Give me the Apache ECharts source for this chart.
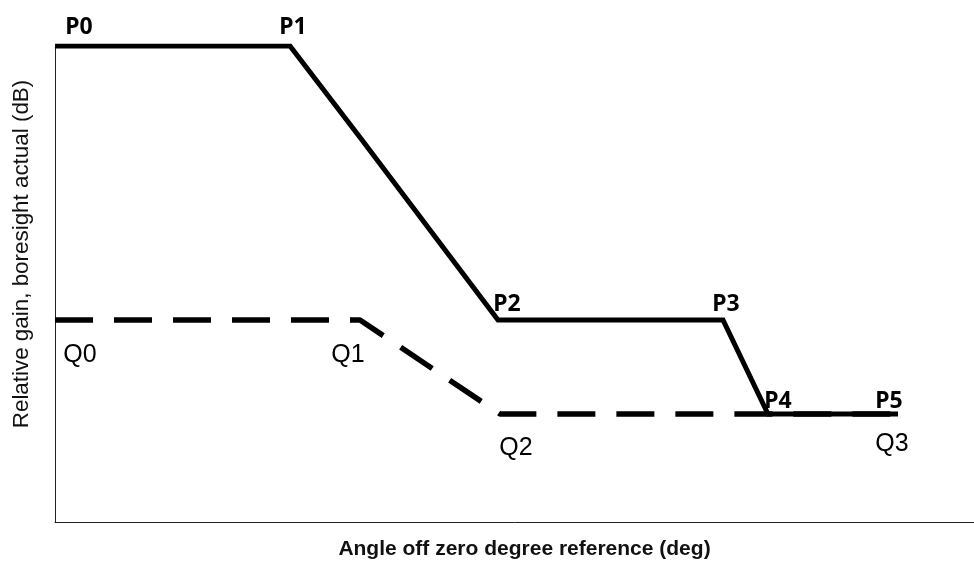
<!DOCTYPE html>
<html><head><meta charset="utf-8">
<script src="https://cdn.jsdelivr.net/npm/echarts@6/dist/echarts.min.js"></script>
<style>html,body{margin:0;padding:0;background:#fff}#c{width:974px;height:561px}</style>
</head><body><div id="c"></div>
<script>
// Data (x: angle units, y: relative gain units)
const pNames = ['P0', 'P1', '', 'P2', 'P3', 'P4', 'P5'];
const pX = [0, 23.5, 30.7, 44.3, 66.8, 71.3, 84.3];
const pY = [0, 0, -9.4, -27.4, -27.4, -36.8, -36.8];
const qNames = ['Q0', 'Q1', 'Q2', 'Q3'];
const qX = [0, 30.5, 44.5, 84.3];
const qY = [-27.4, -27.4, -36.8, -36.8];

// label offsets (styling)
const pOff = [[24,-19],[3,-19],null,[9,-16],[3,-16],[10,-13],[-9,-13]];
const qOff = [[25,35],[-12,35],[16,34],[-6,30]];

const pFont = {fontFamily:'Noto Sans', fontWeight:'bold', fontSize:23, color:'#000'};
const qFont = {fontFamily:'Liberation Sans', fontWeight:'normal', fontSize:25, color:'#000'};

function build(names, xs, ys, offs, font){
  return xs.map((x,i)=>({
    value:[x, ys[i]], name:names[i],
    label: names[i] ? Object.assign({show:true, position:'inside', offset:offs[i], formatter:'{b}'}, font) : {show:false}
  }));
}

const chart = echarts.init(document.getElementById('c'), null, {renderer:'canvas'});
chart.setOption({
  animation:false,
  backgroundColor:'#fff',
  grid:{left:55, right:0, top:46, bottom:39, containLabel:false, outerBoundsMode:'none'},
  xAxis:{type:'value', min:0, max:91.9,
    name:'Angle off zero degree reference (deg)', nameLocation:'middle', nameGap:17,
    nameTextStyle:{fontFamily:'Liberation Sans', fontWeight:'bold', fontSize:21, color:'#111', padding:[0,0,0,20]},
    axisLine:{show:true, onZero:false, lineStyle:{color:'#222', width:1}}, axisTick:{show:false}, axisLabel:{show:false}, splitLine:{show:false}},
  yAxis:{type:'value', min:-47.6, max:0,
    name:'Relative gain, boresight actual (dB)', nameLocation:'middle', nameGap:22, nameRotate:90,
    nameTextStyle:{fontFamily:'Liberation Sans', fontSize:22.4, color:'#111', padding:[0,0,0,60]},
    axisLine:{show:true, onZero:false, lineStyle:{color:'#222', width:1}}, axisTick:{show:false}, axisLabel:{show:false}, splitLine:{show:false}},
  series:[
    {type:'line', data:build(qNames,qX,qY,qOff,qFont), symbol:'circle', symbolSize:0.01, showSymbol:true,
     lineStyle:{color:'#000', width:5.5, type:[38,21], cap:'butt'}, z:2},
    {type:'line', data:build(pNames,pX,pY,pOff,pFont), symbol:'circle', symbolSize:0.01, showSymbol:true,
     lineStyle:{color:'#000', width:5, type:'solid', join:'miter'}, z:3}
  ]
});
</script></body></html>
